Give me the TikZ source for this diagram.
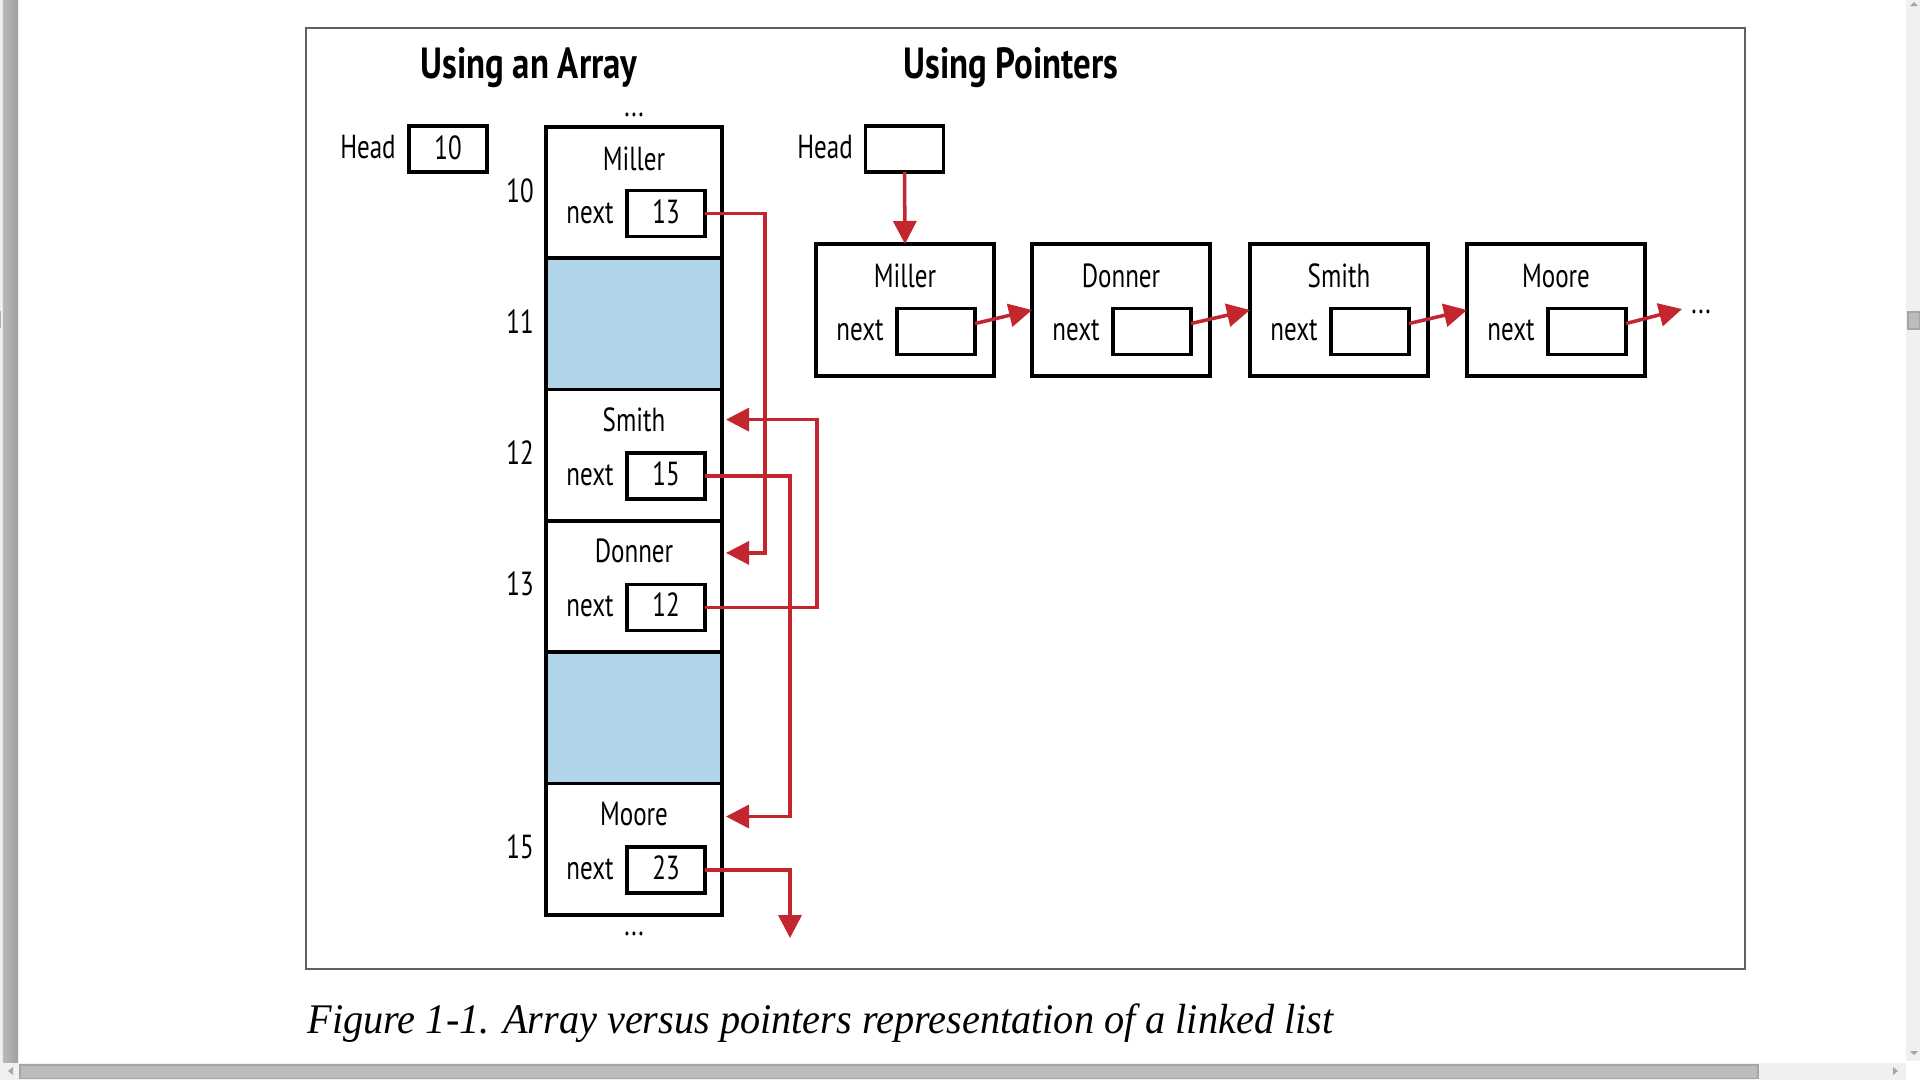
\documentclass[tikz,border=0pt]{standalone}
\usepackage{fontspec}
\usetikzlibrary{arrows.meta,calc}
\newfontfamily\dfont[FakeStretch=0.75]{PT Sans}
\newfontfamily\tfont[FakeStretch=0.80]{PT Sans}
\newfontfamily\capfont[FakeStretch=0.955]{Liberation Serif}
\definecolor{redA}{RGB}{196,38,48}
\definecolor{blueA}{RGB}{176,212,232}
\definecolor{barbg}{RGB}{240,240,240}
\definecolor{thumb}{RGB}{188,188,188}
\definecolor{thumbb}{RGB}{165,165,165}
\begin{document}
\begin{tikzpicture}[x=0.1mm,y=-0.1mm,
  txt/.style={inner sep=0pt, anchor=base, font=\dfont\fontsize{9.5}{11}\selectfont},
  ttl/.style={inner sep=0pt, anchor=base, font=\tfont\bfseries\fontsize{12.4}{14}\selectfont},
  cell/.style={draw=black, line width=1.05pt, minimum width=17.6mm, minimum height=13.13mm, inner sep=0pt, outer sep=0pt, anchor=north west},
  pcell/.style={draw=black, line width=1.05pt, minimum width=17.8mm, minimum height=13.2mm, inner sep=0pt, outer sep=0pt, anchor=north west},
  nbox/.style={draw=black, line width=1.05pt, minimum width=7.8mm, minimum height=4.6mm, inner sep=0pt, outer sep=0pt},
  redarrow/.style={draw=redA, line width=1pt, -{Triangle[length=2.3mm,width=2.3mm]}},
  capt/.style={inner sep=0pt, anchor=base west, font=\capfont\itshape\fontsize{12}{14}\selectfont}
]
\useasboundingbox (0,0) rectangle (1920,1080);
\fill[white] (0,0) rectangle (1920,1080);

% window chrome
\fill[gray!12] (0,0) rectangle (3,1063);
\shade[left color=gray!55, right color=gray!75] (3,0) rectangle (18,1063);
\fill[gray!60] (0,311) rectangle (1.5,328);
\fill[barbg] (0,1063) rectangle (1906,1080);
\draw[fill=thumb, draw=thumbb, line width=0.3pt] (20,1065) rectangle (1758,1078);
\fill[gray!70] (8,1071) -- (13,1067) -- (13,1075) -- cycle;
\fill[gray!70] (1898,1071) -- (1893,1067) -- (1893,1075) -- cycle;
\fill[barbg] (1906,0) rectangle (1920,1061);
\draw[fill=thumb, draw=thumbb, line width=0.3pt] (1908,312) rectangle (1920,329);
\fill[gray!70] (1914,2) -- (1910,6) -- (1918,6) -- cycle;
\fill[gray!70] (1914,1055) -- (1910,1051) -- (1918,1051) -- cycle;

% frame
\draw[gray!75!black, line width=0.45pt] (306,28) rectangle (1745,969);

% titles
\node[ttl] (titleA) at (529,78) {Using an Array};
\node[ttl] (titleP) at (1011,78) {Using Pointers};

% ---------- array ----------
\node[txt] (hAl) at (368,158) {Head};
\node[nbox] (hAb) at (448,149) {};
\node[txt] (hAv) at (448,159) {10};
\node[txt] (dotsA) at (634,116) {...};

\node[cell] (a0) at (546,127) {};
\node[cell, fill=blueA] (a1) at (546,258.3) {};
\node[cell] (a2) at (546,389.6) {};
\node[cell] (a3) at (546,520.9) {};
\node[cell, fill=blueA] (a4) at (546,652.2) {};
\node[cell] (a5) at (546,783.5) {};
\node[txt] (dotsB) at (634,935) {...};

\node[txt] (i0) at (520,202) {10};
\node[txt] (i1) at (520,333.3) {11};
\node[txt] (i2) at (520,464.6) {12};
\node[txt] (i3) at (520,595.9) {13};
\node[txt] (i5) at (520,858.5) {15};

\node[txt] (a0n) at (634,170.3) {Miller};
\node[txt] (a0l) at (590,223) {next};
\node[nbox] (a0b) at (666,213.5) {};
\node[txt] (a0v) at (666,223) {13};

\node[txt] (a2n) at (634,431.6) {Smith};
\node[txt] (a2l) at (590,485.6) {next};
\node[nbox] (a2b) at (666,476.1) {};
\node[txt] (a2v) at (666,485.6) {15};

\node[txt] (a3n) at (634,562.9) {Donner};
\node[txt] (a3l) at (590,616.9) {next};
\node[nbox] (a3b) at (666,607.4) {};
\node[txt] (a3v) at (666,616.9) {12};

\node[txt] (a5n) at (634,825.5) {Moore};
\node[txt] (a5l) at (590,879.5) {next};
\node[nbox] (a5b) at (666,870) {};
\node[txt] (a5v) at (666,879.5) {23};

\coordinate (t3) at ($(a3.north east)+(4,32)$);
\coordinate (t2) at ($(a2.north east)+(4,30)$);
\coordinate (t5) at ($(a5.north east)+(4,33)$);
\coordinate (aend) at (790,938);

\draw[redarrow] (a0b.east) -| ($(t3)+(39,0)$) -- (t3);
\draw[redarrow] (a3b.east) -| ($(t2)+(91,0)$) -- (t2);
\draw[redarrow] (a2b.east) -| ($(t5)+(64,0)$) -- (t5);
\draw[redarrow] (a5b.east) -| (aend);

% ---------- pointers ----------
\node[txt] (hPl) at (825,158) {Head};
\node[nbox] (hPb) at (904.5,149) {};

\node[pcell] (pm) at (816,244) {};
\node[pcell] (pd) at (1032,244) {};
\node[pcell] (ps) at (1250,244) {};
\node[pcell] (po) at (1467,244) {};

\node[txt] (pmn) at (905,287) {Miller};
\node[txt] (pml) at (860,340) {next};
\node[nbox] (pmb) at (936,331.5) {};

\node[txt] (pdn) at (1121,287) {Donner};
\node[txt] (pdl) at (1076,340) {next};
\node[nbox] (pdb) at (1152,331.5) {};

\node[txt] (psn) at (1339,287) {Smith};
\node[txt] (psl) at (1294,340) {next};
\node[nbox] (psb) at (1370,331.5) {};

\node[txt] (pon) at (1556,287) {Moore};
\node[txt] (pol) at (1511,340) {next};
\node[nbox] (pob) at (1587,331.5) {};

\coordinate (pend) at (1682,309);
\node[txt] (dotsP) at (1701,313) {...};

\draw[redarrow] (hPb.south) -- (pm.north);
\draw[redarrow] ($(pmb.east)+(0,-8)$) -- (pd.west);
\draw[redarrow] ($(pdb.east)+(0,-8)$) -- (ps.west);
\draw[redarrow] ($(psb.east)+(0,-8)$) -- (po.west);
\draw[redarrow] ($(pob.east)+(0,-8)$) -- (pend);

% caption
\node[capt] (cap) at (307,1033) {Figure 1-1. Array versus pointers representation of a linked list};
\end{tikzpicture}
\end{document}
